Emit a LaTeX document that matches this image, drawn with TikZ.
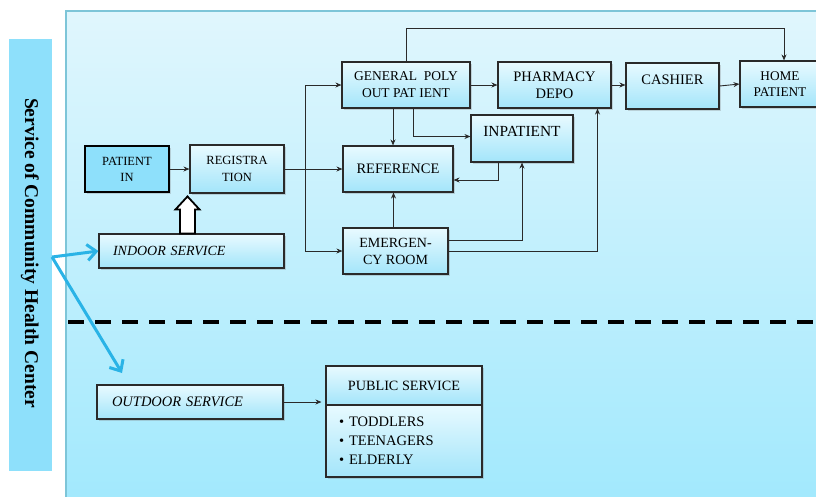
\documentclass[tikz,border=0pt]{standalone}
\usepackage{fontspec}
\setmainfont{Liberation Serif}
\usetikzlibrary{arrows.meta,shadows,calc}
\definecolor{sidebar}{HTML}{8EE0FB}
\definecolor{panelline}{HTML}{7DC5D8}
\definecolor{paneltop}{HTML}{E0F6FD}
\definecolor{panelbot}{HTML}{A2E9FD}
\definecolor{boxtop}{HTML}{E8FAFF}
\definecolor{boxbot}{HTML}{A3E5FA}
\definecolor{bluearrow}{HTML}{2AB3E6}
\definecolor{boxline}{HTML}{2A2A2A}
\tikzset{
  box/.style={draw=boxline, line width=1.1pt, top color=boxtop, bottom color=boxbot,
    align=center, inner sep=0pt, font=\fontsize{12}{16}\selectfont,
    drop shadow={shadow xshift=1.5pt, shadow yshift=-1.5pt, opacity=.3}},
  arr/.style={draw=boxline, line width=0.9pt, -{Stealth[length=6pt,width=5pt]}},
  bluearr/.style={draw=bluearrow, line width=3pt, -{Straight Barb[length=9pt,width=16pt,line width=3pt]}},
}
\begin{document}
\begin{tikzpicture}[x=1pt,y=-1pt]
\useasboundingbox (0,0) rectangle (816,496);
% panel
\shade[top color=paneltop, bottom color=panelbot] (66,11) rectangle (820,500);
\draw[panelline, line width=1.2pt] (820,11) -- (66,11) -- (66,500);
% sidebar
\node[fill=sidebar, minimum width=43, minimum height=432, inner sep=0pt] (side) at (30.5,255) {};
\node[rotate=-90, font=\fontsize{19.5}{22}\selectfont\bfseries] (sidet) at (30,253) {Service of Community Health Center};
% dashed separator
\draw[line width=4.5pt, dash pattern=on 16pt off 11pt] (68,322) -- (816,322);

% nodes
\node[box, minimum width=84, minimum height=46, top color=sidebar, bottom color=sidebar, line width=2.4pt, draw=black, font=\fontsize{12.5}{16}\selectfont] (patin) at (127,169) {PATIENT\\IN};
\node[box, minimum width=94, minimum height=48, font=\fontsize{12.5}{17}\selectfont] (reg) at (237,169) {REGISTRA\\TION};
\node[box, minimum width=185, minimum height=34, text width=157, inner xsep=14, align=left, font=\fontsize{14}{16}\selectfont\itshape] (indoor) at (191.5,251) {INDOOR SERVICE};
\node[box, minimum width=128, minimum height=46, font=\fontsize{13.5}{17}\selectfont] (gpo) at (406,85) {GENERAL\ \ POLY\\OUT PAT IENT};
\node[box, minimum width=113, minimum height=46, font=\fontsize{14.5}{17}\selectfont] (pharm) at (554.5,85) {PHARMACY\\DEPO};
\node[box, minimum width=93, minimum height=46, font=\fontsize{14.5}{17}\selectfont, text depth=12pt] (cash) at (672.5,86) {CASHIER};
\node[box, minimum width=80, minimum height=46, font=\fontsize{13.3}{16}\selectfont] (home) at (780,84) {HOME\\PATIENT};
\node[box, minimum width=102, minimum height=47, font=\fontsize{15.4}{17}\selectfont, text depth=14pt] (inpat) at (522,138.5) {INPATIENT};
\node[box, minimum width=110, minimum height=46, font=\fontsize{14.5}{17}\selectfont] (ref) at (398,169) {REFERENCE};
\node[box, minimum width=105, minimum height=46, font=\fontsize{14}{17}\selectfont] (emer) at (395.5,251) {EMERGEN-\\CY ROOM};
\node[box, minimum width=186, minimum height=34, text width=156, inner xsep=15, align=left, font=\fontsize{14.5}{16}\selectfont\itshape] (outdoor) at (190,402) {OUTDOOR SERVICE};
\node[box, minimum width=156, minimum height=39, font=\fontsize{14.2}{16}\selectfont] (pubh) at (404,385.5) {PUBLIC SERVICE};
\node[box, minimum width=156, minimum height=72, text width=130, inner xsep=13, align=left, font=\fontsize{14.5}{19}\selectfont] (pubb) at (404,441) {\textbullet\hspace{5pt}TODDLERS\\\textbullet\hspace{5pt}TEENAGERS\\\textbullet\hspace{5pt}ELDERLY};

% hollow arrow
\draw[line width=1.8pt, fill=white, line join=miter]
  ($(indoor.north)+(3.5,0)$) -- ++(0,-24) -- ++(4.5,0) -- ++(-12,-13) -- ++(-12,13) -- ++(4.5,0) -- ++(0,24) -- cycle;

% connectors
\coordinate (jx) at (305,169);
\draw[arr] (patin.east) -- (reg.west);
\draw[arr] (reg.east) -- (ref.west);
\draw[arr] (jx) |- (gpo.west);
\draw[arr] (jx) |- (emer.west);
\draw[arr] (gpo.north) -- ++(0,-33) -| ([xshift=4pt]home.north);
\draw[arr] (gpo.east) -- (pharm.west);
\draw[arr] ([xshift=-13pt]gpo.south) -- ([xshift=-13pt]gpo.south |- ref.north);
\draw[arr] ([xshift=7pt]gpo.south) |- ([yshift=2pt]inpat.west);
\draw[arr] ([xshift=-24pt]inpat.south) |- ([yshift=-11pt]ref.east);
\draw[arr] ([xshift=-2pt]emer.north) -- ([xshift=-2pt]emer.north |- ref.south);
\draw[arr] ([yshift=11pt]emer.east) -| (inpat.south);
\draw[arr] (emer.east) -| ([xshift=43pt]pharm.south);
\draw[arr] (pharm.east) -- (cash.west |- pharm.east);
\draw[arr] (cash.east) -- (home.west);
\draw[arr] (outdoor.east) -- ([xshift=-4pt]outdoor.east -| pubh.west);

% blue arrows
\coordinate (bs) at (52,257);
\coordinate (bend) at (122,373);
\draw[bluearr] (bs) -- (indoor.west);
\draw[bluearr] (bs) -- (bend);
\end{tikzpicture}
\end{document}
